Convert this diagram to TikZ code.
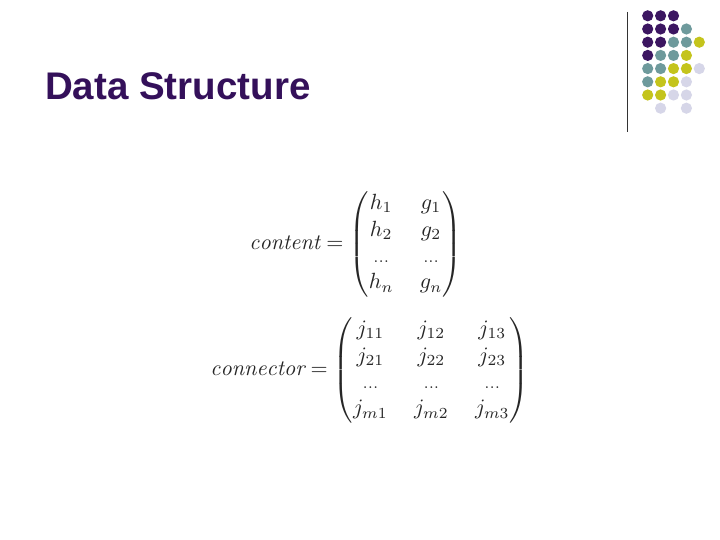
\documentclass[tikz,border=0pt]{standalone}
\usepackage{amsmath}
\usepackage{fontspec}
\newfontfamily\titlefont{Liberation Sans}
\definecolor{dpurple}{HTML}{3C1661}
\definecolor{dteal}{HTML}{6E9A9C}
\definecolor{dyellow}{HTML}{C4C41C}
\definecolor{dlav}{HTML}{D6D6E8}
\definecolor{titlecol}{HTML}{34105A}
\newcommand{\smdots}{{\scriptstyle\ldots}}
\begin{document}
\begin{tikzpicture}[x=1pt,y=-1pt,
  dotP/.style={fill=dpurple},
  dotT/.style={fill=dteal},
  dotY/.style={fill=dyellow},
  dotL/.style={fill=dlav},
  eq/.style={anchor=west,scale=2.2,inner sep=0pt,text=black!85}]
\useasboundingbox (0,0) rectangle (720,540);
\fill[white] (0,0) rectangle (720,540);
% vertical rule
\draw[line width=1pt,black!80] (627,12) -- (627,132);
% dot grid
\def\dx{12.9}\def\dy{13.2}
\foreach \r/\c/\s in {0/0/P,0/1/P,0/2/P,
  1/0/P,1/1/P,1/2/P,1/3/T,
  2/0/P,2/1/P,2/2/T,2/3/T,2/4/Y,
  3/0/P,3/1/T,3/2/T,3/3/Y,
  4/0/T,4/1/T,4/2/Y,4/3/Y,4/4/L,
  5/0/T,5/1/Y,5/2/Y,5/3/L,
  6/0/Y,6/1/Y,6/2/L,6/3/L,
  7/1/L,7/3/L}
  \fill[dot\s] ({647.7+\c*\dx},{15.8+\r*\dy}) circle (5.6);
% title
\node[anchor=base west,inner sep=0pt,text=titlecol] (title) at (45,100)
  {\titlefont\fontsize{38.5}{40}\selectfont\bfseries Data Structure};
% equations
\node[eq] (content) at (249,244)
  {\setlength{\arraycolsep}{6pt}$\mathit{content}=\begin{pmatrix} h_1 & g_1\\ h_2 & g_2\\ \smdots & \smdots\\ h_n & g_n\end{pmatrix}$};
\node[eq] (connector) at (210,370)
  {\setlength{\arraycolsep}{6pt}$\mathit{connector}=\begin{pmatrix} j_{11} & j_{12} & j_{13}\\ j_{21} & j_{22} & j_{23}\\ \smdots & \smdots & \smdots\\ j_{m1} & j_{m2} & j_{m3}\end{pmatrix}$};
\end{tikzpicture}
\end{document}
